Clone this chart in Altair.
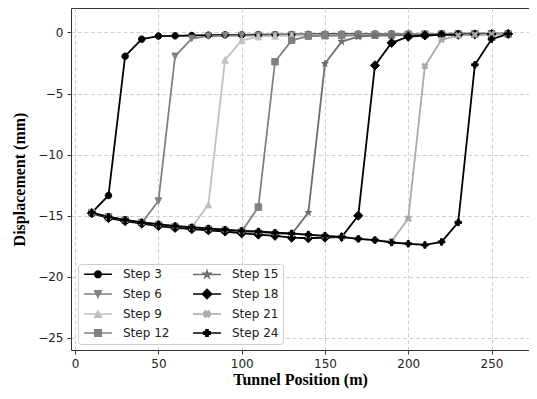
import altair as alt
import pandas as pd

# ---------------- data ----------------
positions = [10, 20, 30, 40, 50, 60, 70, 80, 90, 100, 110, 120, 130,
             140, 150, 160, 170, 180, 190, 200, 210, 220, 230, 240, 250, 260]

step_names = ["Step 3", "Step 6", "Step 9", "Step 12",
              "Step 15", "Step 18", "Step 21", "Step 24"]

step3 = [-14.75, -13.35, -1.95, -0.55, -0.30, -0.28, -0.25, -0.22, -0.20, -0.20,
         -0.18, -0.18, -0.17, -0.16, -0.15, -0.15, -0.14, -0.14, -0.13, -0.13,
         -0.12, -0.12, -0.11, -0.11, -0.10, -0.10]
step6 = [-14.80, -15.10, -15.40, -15.60, -13.80, -1.95, -0.50, -0.30, -0.27, -0.25,
         -0.24, -0.22, -0.21, -0.20, -0.19, -0.18, -0.17, -0.16, -0.15, -0.15,
         -0.14, -0.13, -0.13, -0.12, -0.12, -0.11]
step9 = [-14.80, -15.10, -15.35, -15.55, -15.70, -15.85, -15.95, -14.10, -2.25, -0.65,
         -0.35, -0.28, -0.26, -0.24, -0.22, -0.21, -0.20, -0.19, -0.18, -0.17,
         -0.16, -0.15, -0.14, -0.13, -0.12, -0.12]
step12 = [-14.75, -15.10, -15.35, -15.55, -15.75, -15.90, -16.00, -16.10, -16.20, -16.30,
          -14.30, -2.40, -0.65, -0.30, -0.27, -0.25, -0.24, -0.22, -0.21, -0.20,
          -0.18, -0.17, -0.16, -0.15, -0.14, -0.13]
step15 = [-14.80, -15.10, -15.40, -15.60, -15.75, -15.90, -16.00, -16.10, -16.20, -16.30,
          -16.35, -16.45, -16.50, -14.75, -2.55, -0.75, -0.35, -0.27, -0.24, -0.22,
          -0.20, -0.19, -0.18, -0.16, -0.15, -0.14]
step18 = [-14.80, -15.20, -15.45, -15.65, -15.85, -16.00, -16.10, -16.20, -16.30, -16.45,
          -16.55, -16.65, -16.80, -16.85, -16.80, -16.75, -15.00, -2.70, -0.85, -0.35,
          -0.25, -0.20, -0.18, -0.16, -0.14, -0.12]
step21 = [-14.75, -15.10, -15.35, -15.55, -15.70, -15.85, -15.95, -16.05, -16.15, -16.25,
          -16.30, -16.40, -16.50, -16.60, -16.65, -16.75, -16.90, -17.00, -17.10, -15.25,
          -2.75, -0.60, -0.25, -0.20, -0.15, -0.12]
step24 = [-14.75, -15.10, -15.35, -15.55, -15.70, -15.85, -15.95, -16.05, -16.15, -16.25,
          -16.30, -16.40, -16.45, -16.55, -16.65, -16.75, -16.90, -17.00, -17.20, -17.30,
          -17.40, -17.15, -15.55, -2.65, -0.55, -0.12]

series = [step3, step6, step9, step12, step15, step18, step21, step24]

x_ticks = [0, 50, 100, 150, 200, 250]
y_ticks = [-25, -20, -15, -10, -5, 0]

# ---------------- styles ----------------
colors = ["#000000", "#808080", "#c0c0c0", "#808080",
          "#6e6e6e", "#000000", "#a9a9a9", "#000000"]

circle = "M-1,0A1,1 0 1,0 1,0A1,1 0 1,0 -1,0Z"
tri_down = "M-1,-1L1,-1L0,1Z"
tri_up = "M0,-1L1,1L-1,1Z"
square = "M-1,-1L1,-1L1,1L-1,1Z"
star = ("M0,-1.1L0.247,-0.34L1.046,-0.34L0.4,0.13L0.647,0.89L0,0.42L-0.647,0.89"
        "L-0.4,0.13L-1.046,-0.34L-0.247,-0.34Z")
diamond = "M0,-1.41L1.41,0L0,1.41L-1.41,0Z"
xfill = ("M0.4714,-0.9428L0.9428,-0.4714L0.4714,0L0.9428,0.4714L0.4714,0.9428L0,0.4714"
         "L-0.4714,0.9428L-0.9428,0.4714L-0.4714,0L-0.9428,-0.4714L-0.4714,-0.9428L0,-0.4714Z")
pfill = ("M-0.333,-1L0.333,-1L0.333,-0.333L1,-0.333L1,0.333L0.333,0.333L0.333,1"
         "L-0.333,1L-0.333,0.333L-1,0.333L-1,-0.333L-0.333,-0.333Z")
shapes = [circle, tri_down, tri_up, square, star, diamond, xfill, pfill]

legend_line = "M-4.3,0L4.3,0 "
legend_shapes = [legend_line + s for s in shapes]

rows = []
for name, vals in zip(step_names, series):
    assert len(vals) == len(positions)
    for p, v in zip(positions, vals):
        rows.append({"step": name, "position": p, "disp": v})
df = pd.DataFrame(rows)

base = alt.Chart(df)

x_enc = alt.X("position:Q",
              scale=alt.Scale(domain=[-2.5, 272.5], nice=False, zero=False),
              axis=alt.Axis(values=x_ticks, title="Tunnel Position (m)"))
y_enc = alt.Y("disp:Q",
              scale=alt.Scale(domain=[-26, 2], nice=False, zero=False),
              axis=alt.Axis(values=y_ticks, title="Displacement (mm)",
                            labelExpr="replace(datum.label, '-', '\u2212')"))

lines = base.mark_line(strokeWidth=1.8).encode(
    x=x_enc, y=y_enc,
    color=alt.Color("step:N", scale=alt.Scale(domain=step_names, range=colors), legend=None),
)

points = base.mark_point(filled=True, size=42, strokeWidth=1, opacity=1).encode(
    x=x_enc, y=y_enc,
    fill=alt.Fill("step:N", scale=alt.Scale(domain=step_names, range=colors), legend=None),
    stroke=alt.Stroke("step:N", scale=alt.Scale(domain=step_names, range=colors), legend=None),
    shape=alt.Shape("step:N", scale=alt.Scale(domain=step_names, range=shapes), legend=None),
)

leg = alt.Legend(
    title=None, orient="none", legendX=7, legendY=256, columns=2,
    symbolSize=42, symbolStrokeWidth=1.6, symbolOffset=10, labelOffset=19,
    labelFont="DejaVu Sans", labelFontSize=12, labelColor="#222222",
    padding=4, rowPadding=5, columnPadding=19,
    fillColor="rgba(255,255,255,0.8)", strokeColor="#cccccc", cornerRadius=3,
)

legend_layer = base.transform_filter("false").mark_point(filled=True, strokeWidth=1.6, opacity=1).encode(
    fill=alt.Fill("step:N", scale=alt.Scale(domain=step_names, range=colors), legend=leg),
    stroke=alt.Stroke("step:N", scale=alt.Scale(domain=step_names, range=colors), legend=leg),
    shape=alt.Shape("step:N", scale=alt.Scale(domain=step_names, range=legend_shapes), legend=leg),
)

chart = alt.layer(lines, points, legend_layer).resolve_scale(
    fill="independent", stroke="independent", shape="independent", color="independent"
).properties(
    width=458, height=342,
    autosize=alt.AutoSizeParams(type="none"),
    padding={"left": 63, "top": 0, "right": 0, "bottom": 41},
).configure_view(
    stroke="#333333", strokeWidth=1
).configure_axis(
    domain=False,
    grid=True, gridColor="#c4c4c4", gridDash=[4, 2.5], gridWidth=0.8,
    tickColor="#333333", tickSize=4, tickWidth=1,
    labelFont="DejaVu Sans", labelFontSize=12, labelColor="#222222", labelPadding=4,
    titleFont="Liberation Serif", titleFontSize=16, titleFontWeight="bold", titleColor="#000000",
).configure_axisX(
    titlePadding=2
).configure_axisY(
    titlePadding=10
)

chart.save("out.html", embed_options={"renderer": "svg", "actions": False})
